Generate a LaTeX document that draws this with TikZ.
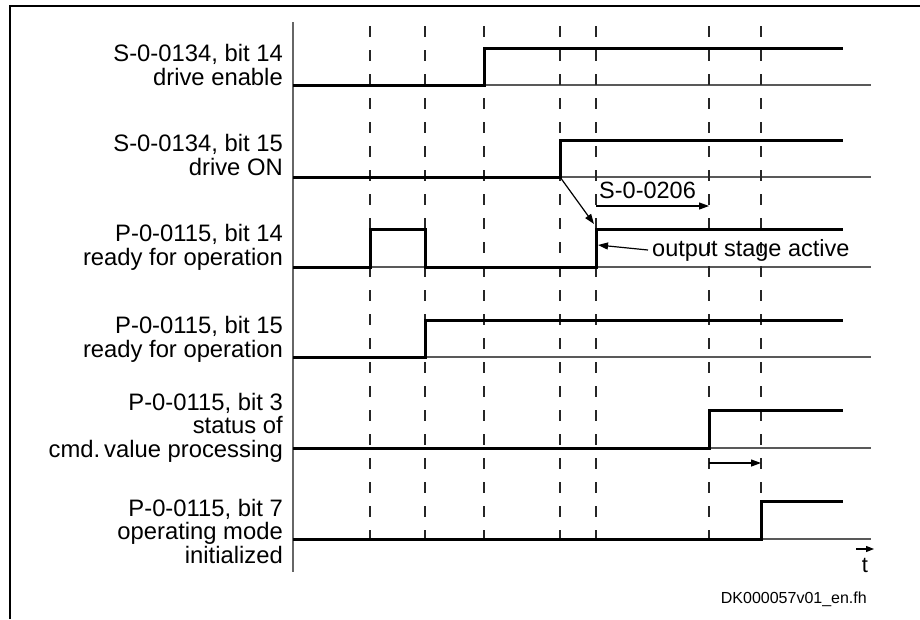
\documentclass[tikz,border=0pt]{standalone}
\usepackage{fontspec}
\setmainfont{Liberation Sans}
\usetikzlibrary{arrows.meta}
\begin{document}
\begin{tikzpicture}[x=1pt,y=-1pt,
  lbl/.style={font=\fontsize{23.8}{23.5}\selectfont, align=right, anchor=base east, inner sep=0pt},
  note/.style={font=\fontsize{23.5}{23.5}\selectfont, anchor=base west, inner sep=0pt},
  sig/.style={line width=3pt, line join=miter},
  baseln/.style={line width=1.2pt, draw=black!65},
  tmark/.style={line width=1.3pt, draw=black!85, dash pattern=on 11pt off 13pt},
  ann/.style={line width=1.2pt, -{Triangle[length=10pt,width=7pt]}},
  frame/.style={line width=2.5pt}]
\useasboundingbox (0,0) rectangle (920,619);
% frame
\coordinate (fbl) at (10,619);
\coordinate (ftl) at (10,6);
\coordinate (ftr) at (920,6);
\draw[frame] (fbl) -- (ftl) -- (ftr);
% axis
\coordinate (axtop) at (293,22);
\coordinate (axbot) at (293,572);
\draw[line width=1.5pt, black!60] (axtop) -- (axbot);
% baselines
\foreach \y in {85,177,267,357,448,539}{
  \draw[baseln] (293,\y) -- (871,\y);
}
% dashed time marks
\foreach \x in {370,425,484,560,596,709,761}{
  \draw[tmark] (\x,26) -- (\x,546);
}
% signals
\draw[sig] (293,85) -- (484,85) -- (484,48) -- (843,48);
\draw[sig] (293,177) -- (560,177) -- (560,140) -- (843,140);
\draw[sig] (293,267) -- (370,267) -- (370,229) -- (425,229) -- (425,267) -- (596,267) -- (596,229) -- (843,229);
\draw[sig] (293,357) -- (425,357) -- (425,320) -- (843,320);
\draw[sig] (293,448) -- (709,448) -- (709,410) -- (843,410);
\draw[sig] (293,539) -- (761,539) -- (761,501) -- (843,501);
% labels (base = baseline of last line)
\node[lbl] (l1) at (283,85) {S-0-0134, bit 14\\drive enable};
\node[lbl] (l2) at (283,175) {S-0-0134, bit 15\\drive ON};
\node[lbl] (l3) at (283,265) {P-0-0115, bit 14\\ready for operation};
\node[lbl] (l4) at (283,357) {P-0-0115, bit 15\\ready for operation};
\node[lbl] (l5) at (283,457) {P-0-0115, bit 3\\status of\\cmd.\,value processing};
\node[lbl] (l6) at (283,563) {P-0-0115, bit 7\\operating mode\\initialized};
% annotations
\coordinate (don) at (560,177);
\coordinate (osa) at (594,224);
\draw[ann] (don) -- (osa);
\coordinate (s206a) at (596,206);
\coordinate (s206b) at (709,206);
\draw[ann] (s206a) -- (s206b);
\node[note] (s206) at (599,198) {S-0-0206};
\node[note] (outst) at (652,256) {output stage active};
\coordinate (outtip) at (598,245);
\coordinate (outtail) at (648,250);
\draw[ann] (outtail) -- (outtip);
\coordinate (cva) at (709,463);
\coordinate (cvb) at (761,463);
\draw[ann] (cva) -- (cvb);
% time arrow
\coordinate (ta) at (856,549);
\coordinate (tb) at (874,549);
\draw[line width=1.2pt, -{Triangle[length=8pt,width=6pt]}] (ta) -- (tb);
\node[font=\fontsize{22}{22}\selectfont, anchor=base, inner sep=0pt] (tl) at (865,572) {t};
\node[font=\fontsize{16}{16}\selectfont, anchor=base east, inner sep=0pt] (dk) at (867,603) {DK000057v01\_en.fh};
\end{tikzpicture}
\end{document}
